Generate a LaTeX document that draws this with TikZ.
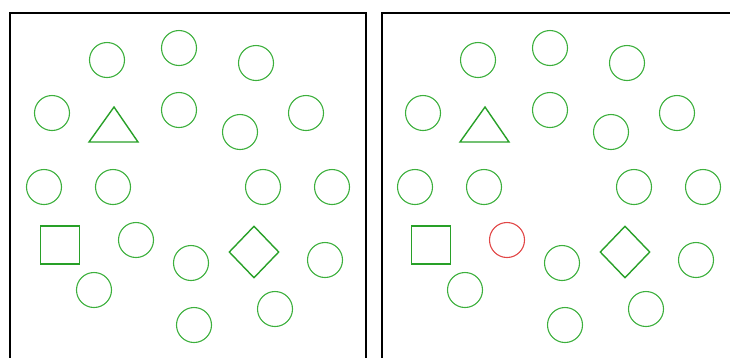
\documentclass[tikz,border=0pt]{standalone}
\usetikzlibrary{shapes.geometric}
\definecolor{gc}{RGB}{60,175,60}
\definecolor{gs}{RGB}{40,160,40}
\definecolor{rc}{RGB}{225,70,70}
\tikzset{
  circ/.style={circle,draw=gc,line width=1.1pt,minimum size=35pt,inner sep=0pt},
  sq/.style={rectangle,draw=gs,line width=1.4pt,minimum width=39pt,minimum height=38pt,inner sep=0pt},
  dia/.style={diamond,draw=gs,line width=1.4pt,minimum width=50pt,minimum height=52pt,inner sep=0pt},
  tri/.style={draw=gs,line width=1.4pt,line join=miter},
  frame/.style={draw=black,line width=1.6pt}
}
\newcommand{\drawpanel}[3]{%
\begin{scope}[xshift=#2]
  \node[circ] (#1a) at (107,60) {};
  \node[circ] (#1b) at (179,48) {};
  \node[circ] (#1c) at (256,63) {};
  \node[circ] (#1d) at (52,113) {};
  \coordinate (#1t1) at (114,107);
  \coordinate (#1t2) at (138,142);
  \coordinate (#1t3) at (89,142);
  \draw[tri] (#1t1) -- (#1t2) -- (#1t3) -- cycle;
  \node[circ] (#1e) at (179,110) {};
  \node[circ] (#1f) at (240,132) {};
  \node[circ] (#1g) at (306,113) {};
  \node[circ] (#1h) at (44,187) {};
  \node[circ] (#1i) at (113,187) {};
  \node[circ] (#1j) at (263,187) {};
  \node[circ] (#1k) at (332,187) {};
  \node[sq] (#1sq) at (60,245) {};
  \node[circ,draw=#3] (#1l) at (136,240) {};
  \node[circ] (#1m) at (191,263) {};
  \node[dia] (#1di) at (254,252) {};
  \node[circ] (#1n) at (325,260) {};
  \node[circ] (#1o) at (94,290) {};
  \node[circ] (#1p) at (275,309) {};
  \node[circ] (#1q) at (194,325) {};
\end{scope}}
\begin{document}
\begin{tikzpicture}[x=1pt,y=-1pt]
  \useasboundingbox (0,0) rectangle (730,357);
  \coordinate (l1) at (10,360);
  \coordinate (l2) at (10,13);
  \coordinate (l3) at (366,13);
  \coordinate (l4) at (366,360);
  \draw[frame] (l1) -- (l2) -- (l3) -- (l4);
  \coordinate (r1) at (382,360);
  \coordinate (r2) at (382,13);
  \coordinate (r3) at (732,13);
  \draw[frame] (r1) -- (r2) -- (r3);
  \drawpanel{L}{0pt}{gc}
  \drawpanel{R}{371pt}{rc}
\end{tikzpicture}
\end{document}
